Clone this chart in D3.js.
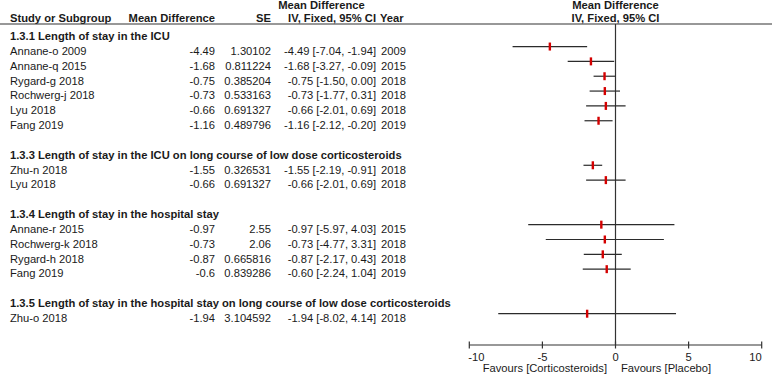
<!DOCTYPE html>
<html>
<head>
<meta charset="utf-8">
<script src="https://cdn.jsdelivr.net/npm/d3@7"></script>
<style>
  html, body { margin: 0; padding: 0; background: #fff; }
  svg { display: block; font-family: "Liberation Sans", Arial, sans-serif; }
  .txt { font-size: 11.2px; fill: #1a1a1a; }
  .bold { font-weight: bold; }
  .ci-line { stroke: #2b2b2b; stroke-width: 1.2; }
  .marker { fill: #d40000; }
  .rule { stroke: #333; stroke-width: 1.2; }
</style>
</head>
<body>
<div id="chart"></div>
<script>
// Subgroups, in order, and which subgroup each study belongs to.
const groupTitles = [
  "1.3.1 Length of stay in the ICU",
  "1.3.3 Length of stay in the ICU on long course of low dose corticosteroids",
  "1.3.4 Length of stay in the hospital stay",
  "1.3.5 Length of stay in the hospital stay on long course of low dose corticosteroids"
];
const studyGroup = [0, 0, 0, 0, 0, 0, 1, 1, 2, 2, 2, 2, 3];
const studies = [
  "Annane-o 2009", "Annane-q 2015", "Rygard-g 2018", "Rochwerg-j 2018", "Lyu 2018", "Fang 2019",
  "Zhu-n 2018", "Lyu 2018",
  "Annane-r 2015", "Rochwerg-k 2018", "Rygard-h 2018", "Fang 2019",
  "Zhu-o 2018"
];
const meanDiff = [-4.49, -1.68, -0.75, -0.73, -0.66, -1.16, -1.55, -0.66, -0.97, -0.73, -0.87, -0.6, -1.94];
const stdErr = [1.30102, 0.811224, 0.385204, 0.533163, 0.691327, 0.489796, 0.326531, 0.691327, 2.55, 2.06, 0.665816, 0.839286, 3.104592];
const ciLow = [-7.04, -3.27, -1.50, -1.77, -2.01, -2.12, -2.19, -2.01, -5.97, -4.77, -2.17, -2.24, -8.02];
const ciHigh = [-1.94, -0.09, 0.00, 0.31, 0.69, -0.20, -0.91, 0.69, 4.03, 3.31, 0.43, 1.04, 4.14];
const years = [2009, 2015, 2018, 2018, 2018, 2019, 2018, 2018, 2015, 2018, 2018, 2019, 2018];
const axisTicks = [-10, -5, 0, 5, 10];
const favourLeft = "Favours [Corticosteroids]";
const favourRight = "Favours [Placebo]";

const width = 772, height = 377;

// Lay out rows: a header row per subgroup, its studies, then a blank spacer row.
const rows = [];
groupTitles.forEach((title, g) => {
  if (g > 0) rows.push({ type: "blank" });
  rows.push({ type: "group", title });
  studies.forEach((s, i) => { if (studyGroup[i] === g) rows.push({ type: "study", i }); });
});

const rowY = d3.scaleLinear().domain([0, rows.length - 1]).range([40, 322]);
const x = d3.scaleLinear().domain([-10, 10]).range([469.3, 761.7]);

const svg = d3.select("#chart").append("svg")
  .attr("width", width).attr("height", height);

// Column positions (left table).
const col = { name: 10, md: 215, se: 271, ci: 376, year: 381 };
const headerLineY = 24, axisY = 345;

// Header
const hdr = svg.append("g").attr("class", "txt bold");
hdr.append("text").attr("x", 321.5).attr("y", 9).attr("text-anchor", "middle").text("Mean Difference");
hdr.append("text").attr("x", col.name).attr("y", 22).text("Study or Subgroup");
hdr.append("text").attr("x", col.md).attr("y", 22).attr("text-anchor", "end").text("Mean Difference");
hdr.append("text").attr("x", col.se).attr("y", 22).attr("text-anchor", "end").text("SE");
hdr.append("text").attr("x", col.ci).attr("y", 22).attr("text-anchor", "end").text("IV, Fixed, 95% CI");
hdr.append("text").attr("x", col.year - 1).attr("y", 22).text("Year");
hdr.append("text").attr("x", x(0)).attr("y", 9).attr("text-anchor", "middle").text("Mean Difference");
hdr.append("text").attr("x", x(0)).attr("y", 22).attr("text-anchor", "middle").text("IV, Fixed, 95% CI");

svg.append("line").attr("class", "rule")
  .attr("x1", 0).attr("x2", width).attr("y1", headerLineY).attr("y2", headerLineY);

// Zero line
svg.append("line").attr("class", "rule")
  .attr("x1", x(0)).attr("x2", x(0)).attr("y1", headerLineY).attr("y2", axisY);

// Rows
const body = svg.append("g");
rows.forEach((r, k) => {
  const by = rowY(k);
  if (r.type === "group") {
    body.append("text").attr("class", "txt bold").attr("x", col.name).attr("y", by).text(r.title);
  } else if (r.type === "study") {
    const i = r.i;
    body.append("text").attr("class", "txt").attr("x", col.name).attr("y", by).text(studies[i]);
    body.append("text").attr("class", "txt").attr("x", col.md).attr("y", by).attr("text-anchor", "end").text(String(meanDiff[i]));
    body.append("text").attr("class", "txt").attr("x", col.se).attr("y", by).attr("text-anchor", "end").text(String(stdErr[i]));
    body.append("text").attr("class", "txt").attr("x", col.ci).attr("y", by).attr("text-anchor", "end")
      .text(`${meanDiff[i].toFixed(2)} [${ciLow[i].toFixed(2)}, ${ciHigh[i].toFixed(2)}]`);
    body.append("text").attr("class", "txt").attr("x", col.year).attr("y", by).text(years[i]);

    const cy = by - 8.3;
    body.append("line").attr("class", "ci-line")
      .attr("x1", x(ciLow[i])).attr("x2", x(ciHigh[i])).attr("y1", cy).attr("y2", cy);
    body.append("rect").attr("class", "marker")
      .attr("x", x(meanDiff[i]) - 1.2).attr("y", cy - 4).attr("width", 2.4).attr("height", 8);
  }
});

// Axis
const ax = svg.append("g");
ax.append("line").attr("class", "rule")
  .attr("x1", x(-10)).attr("x2", x(10)).attr("y1", axisY).attr("y2", axisY);
axisTicks.forEach((t, j) => {
  ax.append("line").attr("class", "rule")
    .attr("x1", x(t)).attr("x2", x(t)).attr("y1", axisY - 3.5).attr("y2", axisY + 3.5);
  const anchor = j === 0 ? "start" : (j === axisTicks.length - 1 ? "end" : "middle");
  ax.append("text").attr("class", "txt").attr("x", x(t) + (j === 0 ? -1 : 0)).attr("y", 360.5)
    .attr("text-anchor", anchor).text(t);
});
ax.append("text").attr("class", "txt").attr("x", x(0) - 8.5).attr("y", 371.5).attr("text-anchor", "end").text(favourLeft);
ax.append("text").attr("class", "txt").attr("x", x(0) + 5.5).attr("y", 371.5).text(favourRight);
</script>
</body>
</html>
